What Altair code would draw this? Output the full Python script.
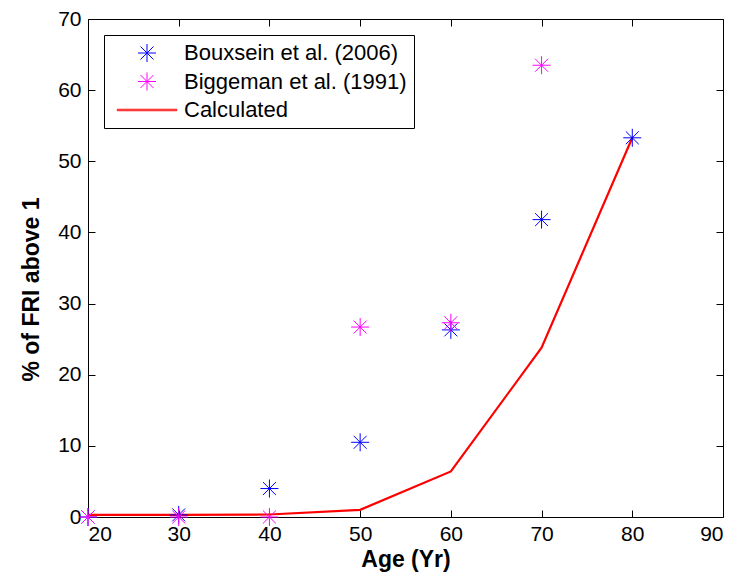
import altair as alt
import pandas as pd

# ---- data ----
series_names = ["Bouxsein et al. (2006)", "Biggeman et al. (1991)", "Calculated"]
series_colors = ["#0000ff", "#ff00ff", "#ff0000"]

bouxsein_age = [20, 30, 40, 50, 60, 70, 80]
bouxsein_pct = [0.0, 0.3, 4.0, 10.5, 26.3, 41.8, 53.3]

biggeman_age = [20, 30, 40, 50, 60, 70]
biggeman_pct = [0.0, 0.0, 0.0, 26.7, 27.3, 63.5]

calc_age = [20, 30, 40, 50, 60, 70, 80]
calc_pct = [0.3, 0.3, 0.35, 1.0, 6.4, 23.8, 53.3]

x_ticks = [20, 30, 40, 50, 60, 70, 80, 90]
y_ticks = [0, 10, 20, 30, 40, 50, 60, 70]

# ---- tables ----
pts = pd.concat([
    pd.DataFrame({"age": bouxsein_age, "pct": bouxsein_pct, "series": series_names[0]}),
    pd.DataFrame({"age": biggeman_age, "pct": biggeman_pct, "series": series_names[1]}),
], ignore_index=True)
line_df = pd.DataFrame({"age": calc_age, "pct": calc_pct, "series": series_names[2]})

STAR = "M0,-1L0,1M-1,0L1,0M-0.72,-0.72L0.72,0.72M-0.72,0.72L0.72,-0.72"
LINE_SYM = "M-3.3,-0.08L3.3,-0.08L3.3,0.08L-3.3,0.08Z"

FONT = "Liberation Sans"

xscale = alt.Scale(domain=[20, 90], nice=False, zero=False)
yscale = alt.Scale(domain=[0, 70], nice=False, zero=True)
cscale = alt.Scale(domain=series_names, range=series_colors)
sscale = alt.Scale(domain=series_names, range=[STAR, STAR, LINE_SYM])

legend = alt.Legend(
    title=None, orient="none", legendX=16, legendY=16,
    padding=7, strokeColor="black", fillColor="white", cornerRadius=0,
    labelFont=FONT, labelFontSize=22, labelColor="black", labelLimit=400,
    labelOffset=26, symbolOffset=25, symbolSize=324, symbolStrokeWidth=1,
    rowPadding=6.5,
)

tick_common = dict(grid=False, domain=False, tickSize=7, offset=-7,
                   tickColor="black", tickWidth=1)

line = alt.Chart(line_df).mark_line(color="#ff0000", strokeWidth=2.2).encode(
    x=alt.X("age:Q", scale=xscale,
            axis=alt.Axis(orient="bottom", values=x_ticks, format="d",
                          labelFont=FONT, labelFontSize=21, labelColor="black",
                          labelPadding=6, title="Age (Yr)", titleFont=FONT,
                          titleFontSize=23, titleFontWeight="bold", titleColor="black",
                          titleBaseline="middle", titleY=49, **tick_common)),
    y=alt.Y("pct:Q", scale=yscale,
            axis=alt.Axis(orient="left", values=y_ticks, format="d",
                          labelFont=FONT, labelFontSize=21, labelColor="black",
                          labelPadding=7, title="% of FRI above 1", titleFont=FONT,
                          titleFontSize=23, titleFontWeight="bold", titleColor="black",
                          titleBaseline="middle", titleAngle=270, titleX=-64, titleY=270,
                          **tick_common)),
    color=alt.Color("series:N", scale=cscale, legend=legend),
)

points = alt.Chart(pts).mark_point(filled=False, strokeWidth=1, size=324, opacity=1).encode(
    x=alt.X("age:Q", scale=xscale,
            axis=alt.Axis(orient="top", values=x_ticks, labels=False, title=None, **tick_common)),
    y=alt.Y("pct:Q", scale=yscale,
            axis=alt.Axis(orient="right", values=y_ticks, labels=False, title=None, **tick_common)),
    color=alt.Color("series:N", scale=cscale, legend=legend),
    shape=alt.Shape("series:N", scale=sscale, legend=legend),
)

chart = alt.layer(line, points).resolve_axis(x="independent", y="independent").properties(
    width=635, height=498,
    autosize=alt.AutoSizeParams(type="none"),
    padding={"left": 80, "top": 11, "right": 7, "bottom": 56},
    background="white",
).configure_view(stroke="black", strokeWidth=1)

chart.save("out.html", embed_options={"renderer": "svg", "actions": False})
